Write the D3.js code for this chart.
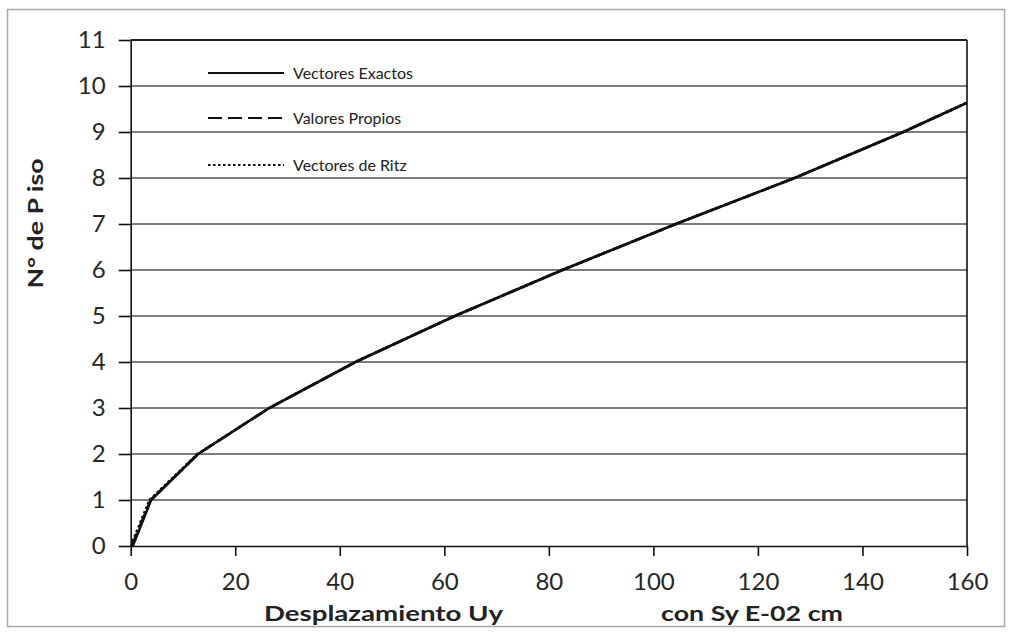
<!DOCTYPE html>
<html><head><meta charset="utf-8">
<script src="https://cdn.jsdelivr.net/npm/d3@7"></script>
<style>
html,body{margin:0;padding:0;background:#fff;}
svg{display:block;}
</style></head>
<body>
<svg id="c" width="1015" height="634"></svg>
<script>
// ---- data ----
const floors = [0, 1, 2, 3, 4, 5, 6, 7, 8, 9, 10];
const vectoresExactos = [0.4, 3.9, 12.9, 26.5, 43.0, 62.0, 82.6, 104.3, 127.0, 147.8, 167.0];
const valoresPropios  = [0.2, 3.8, 12.9, 26.5, 43.0, 62.0, 82.6, 104.3, 127.0, 147.8, 167.0];
const vectoresRitz    = [0.0, 3.6, 12.8, 26.5, 43.0, 62.0, 82.6, 104.3, 127.0, 147.8, 167.0];
const xTicks = [0, 20, 40, 60, 80, 100, 120, 140, 160];
const yTicks = [0, 1, 2, 3, 4, 5, 6, 7, 8, 9, 10, 11];
const seriesNames = ["Vectores Exactos", "Valores Propios", "Vectores de Ritz"];
const xTitleA = "Desplazamiento Uy";
const xTitleB = "con Sy  E-02 cm";
const yTitle = "N° de P iso";

// ---- layout ----
const L = 130.7, R = 967, T = 40, B = 546;
const svg = d3.select("#c");
const x = d3.scaleLinear().domain([0, 160]).range([L, R]);
const y = d3.scaleLinear().domain([0, 11]).range([B, T]);
const FONT = "Lato, 'DejaVu Sans', sans-serif";

// outer border
svg.append("rect").attr("x", 7.5).attr("y", 9.5).attr("width", 997).attr("height", 617)
  .attr("fill", "#fff").attr("stroke", "#a8a8a8").attr("stroke-width", 1.5);

// gridlines
svg.append("g").selectAll("line").data(yTicks.filter(d => d > 0)).join("line")
  .attr("x1", L).attr("x2", R).attr("y1", d => y(d)).attr("y2", d => y(d))
  .attr("stroke", d => d === 11 ? "#222" : "#7c7c7c").attr("stroke-width", 1.8);

// right frame
svg.append("line").attr("x1", R).attr("x2", R).attr("y1", T).attr("y2", B)
  .attr("stroke", "#111").attr("stroke-width", 1.6);

// axes
const gx = svg.append("g").attr("transform", `translate(0,${B})`)
  .call(d3.axisBottom(x).tickValues(xTicks).tickSize(10).tickPadding(17).tickSizeOuter(0));
const gy = svg.append("g").attr("transform", `translate(${L},0)`)
  .call(d3.axisLeft(y).tickValues(yTicks).tickSize(12).tickPadding(13).tickSizeOuter(0));
[gx, gy].forEach(g => {
  g.select(".domain").attr("stroke", "#111").attr("stroke-width", 1.6);
  g.selectAll(".tick line").attr("stroke", "#111").attr("stroke-width", 1.6);
  g.selectAll(".tick text").attr("font-family", FONT).attr("font-size", 24).attr("fill", "#262626");
});

// clip
svg.append("clipPath").attr("id", "clip").append("rect")
  .attr("x", L).attr("y", T).attr("width", R - L).attr("height", B - T);

const line = d3.line().x(d => x(d[0])).y(d => y(d[1]));
const series = [
  {name: seriesNames[0], vals: vectoresExactos, dash: null},
  {name: seriesNames[1], vals: valoresPropios, dash: "14,6"},
  {name: seriesNames[2], vals: vectoresRitz, dash: "2.5,2.5"}
];
const gl = svg.append("g").attr("clip-path", "url(#clip)");
series.forEach(s => {
  gl.append("path").datum(s.vals.map((v, i) => [v, floors[i]]))
    .attr("d", line).attr("fill", "none").attr("stroke", "#111")
    .attr("stroke-width", 2.6).attr("stroke-dasharray", s.dash);
});

// legend
const legY = [73, 118, 165];
series.forEach((s, i) => {
  svg.append("line").attr("x1", 208).attr("x2", 284).attr("y1", legY[i]).attr("y2", legY[i])
    .attr("stroke", "#111").attr("stroke-width", 2).attr("stroke-dasharray", s.dash);
  svg.append("text").attr("x", 293).attr("y", legY[i]).attr("dy", "0.35em")
    .attr("font-family", FONT).attr("font-size", 16).attr("fill", "#222").text(s.name);
});

// axis titles
svg.append("text").attr("x", 264).attr("y", 621).attr("font-family", FONT)
  .attr("font-weight", "bold").attr("font-size", 21).attr("fill", "#222")
  .attr("textLength", 239).attr("lengthAdjust", "spacingAndGlyphs").text(xTitleA);
svg.append("text").attr("x", 661).attr("y", 621).attr("font-family", FONT)
  .attr("font-weight", "bold").attr("font-size", 21).attr("fill", "#222")
  .attr("textLength", 182).attr("lengthAdjust", "spacingAndGlyphs").text(xTitleB);
svg.append("text").attr("transform", "translate(43,223.5) rotate(-90)")
  .attr("text-anchor", "middle").attr("font-family", FONT)
  .attr("font-weight", "bold").attr("font-size", 21).attr("fill", "#222")
  .attr("textLength", 130).attr("lengthAdjust", "spacingAndGlyphs")
  .text(yTitle);
</script>
</body></html>
